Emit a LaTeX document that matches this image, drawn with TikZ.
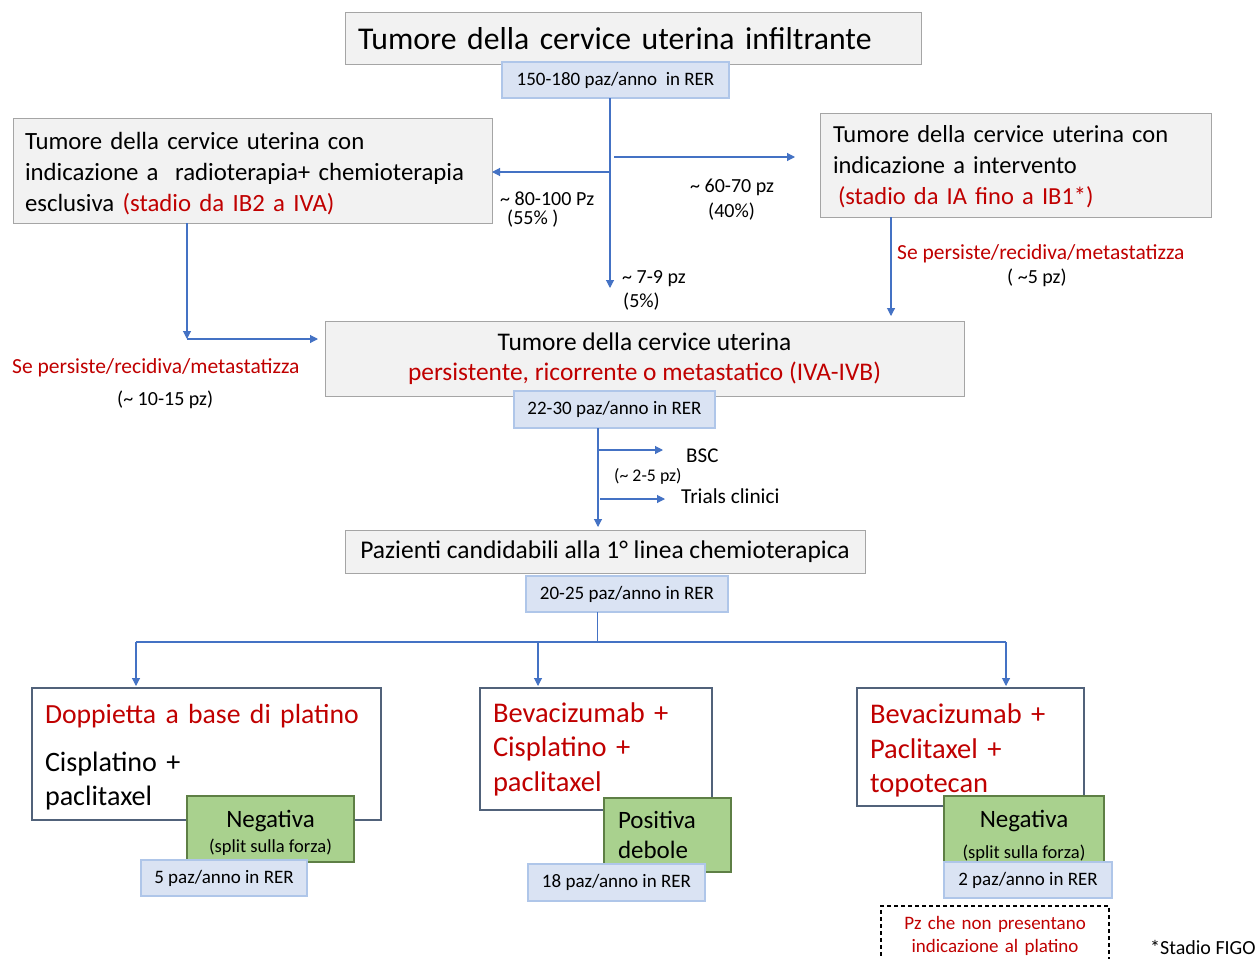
\documentclass[tikz,border=0pt]{standalone}
\usepackage{fontspec}
\setmainfont{Carlito}
\usetikzlibrary{arrows.meta}
\definecolor{gfill}{HTML}{F2F2F2}
\definecolor{gborder}{HTML}{A5A5A5}
\definecolor{bfill}{HTML}{DAE3F3}
\definecolor{bborder}{HTML}{AFC6E9}
\definecolor{ablue}{HTML}{4472C4}
\definecolor{rtext}{HTML}{C00000}
\definecolor{grfill}{HTML}{A9D18E}
\definecolor{grborder}{HTML}{5E7F45}
\definecolor{slate}{HTML}{51627A}
\newcommand\fsz[2]{\fontsize{#1}{#2}\selectfont}
\newcommand\lift[1]{\rule{0pt}{#1}}
\tikzset{
  basebox/.style={anchor=north west, inner ysep=0pt, outer sep=0pt, line width=1pt},
  graybox/.style={basebox, draw=gborder, fill=gfill},
  bluebox/.style={basebox, draw=bborder, fill=bfill, line width=1.2pt, align=center, font=\fsz{19}{23}},
  whitebox/.style={basebox, draw=slate, fill=white, line width=1.1pt},
  greenbox/.style={basebox, draw=grborder, fill=grfill, line width=1.1pt},
  arr/.style={draw=ablue, line width=1.1pt, -{Triangle[length=8pt,width=8pt]}},
  lbl/.style={anchor=base west, inner sep=0pt, font=\fsz{20}{24}},
  redlbl/.style={lbl, text=rtext, font=\fsz{21.5}{25}},
}
\begin{document}
\begin{tikzpicture}[x=1pt,y=-1pt]
\clip (0,0) rectangle (1255,958);
\fill[white] (0,0) rectangle (1255,958);

% --- main boxes
\node[graybox, inner xsep=13pt, text width=550pt, minimum height=52pt, align=left, font=\fsz{31.7}{38}] (title) at (345,13) {Tumore della cervice uterina infiltrante};
\node[bluebox, minimum width=227pt, minimum height=36pt] (b150) at (502,62) {150-180 paz/anno\ \ in RER};

\node[graybox, inner xsep=12pt, text width=455pt, minimum height=105pt, align=left, font=\fsz{24.8}{31}] (lbox) at (13,118)
  {\lift{23pt}Tumore della cervice uterina con\\ \mbox{indicazione a\ \ radioterapia+ chemioterapia}\\ esclusiva {\color{rtext}(stadio da IB2 a IVA)}};
\node[graybox, inner xsep=13pt, text width=365pt, minimum height=104pt, align=left, font=\fsz{24.5}{31}] (rbox) at (820,113)
  {\lift{20pt}Tumore della cervice uterina con\\ indicazione a intervento\\ \hspace*{5pt}{\color{rtext}(stadio da IA fino a IB1*)}};

\node[graybox, minimum width=639pt, minimum height=75pt, align=center, font=\fsz{25.4}{30}] (pbox) at (325,321)
  {Tumore della cervice uterina\\ {\color{rtext}persistente, ricorrente o metastatico (IVA-IVB)}};
\node[bluebox, minimum width=201pt, minimum height=37pt] (b22) at (514,391) {22-30 paz/anno in RER};

\node[graybox, minimum width=520pt, minimum height=43pt, align=center, font=\fsz{25.5}{30}] (paz) at (345,530) {Pazienti candidabili alla 1° linea chemioterapica};
\node[bluebox, minimum width=202pt, minimum height=36pt] (b20) at (526,576) {20-25 paz/anno in RER};

% --- therapy boxes
\node[whitebox, inner xsep=13pt, text width=323pt, minimum height=132pt, align=left, font=\fsz{28.1}{34.5}] (boxA) at (32,688)
  {\lift{26pt}{\fsz{27.7}{34.5}\color{rtext}Doppietta a base di platino}\\[13.5pt] Cisplatino +\\ paclitaxel};
\node[whitebox, inner xsep=13pt, text width=206pt, minimum height=122pt, align=left, text=rtext, font=\fsz{28.5}{34.5}] (boxB) at (480,688)
  {Bevacizumab +\\ Cisplatino +\\ paclitaxel};
\node[whitebox, inner xsep=13pt, text width=201pt, minimum height=118pt, align=left, text=rtext, font=\fsz{28.5}{34.5}] (boxC) at (857,688)
  {\lift{27pt}Bevacizumab +\\ Paclitaxel +\\ topotecan};

\node[greenbox, minimum width=167pt, minimum height=66pt, align=center, font=\fsz{25}{25}] (gA) at (187,796)
  {\lift{24pt}Negativa\\ {\fsz{18.5}{25}(split sulla forza)}};
\node[greenbox, inner xsep=14pt, text width=99pt, minimum height=74pt, align=left, font=\fsz{25}{30}] (gB) at (604,798)
  {Positiva\\ debole};
\node[greenbox, minimum width=160pt, minimum height=66pt, align=center, font=\fsz{25}{31}] (gC) at (944,796)
  {\lift{30pt}Negativa\\ {\fsz{18.5}{31}(split sulla forza)}};

\node[bluebox, minimum width=166pt, minimum height=36pt] (bA) at (141,860) {5 paz/anno in RER};
\node[bluebox, minimum width=177pt, minimum height=37pt] (bB) at (528,864) {18 paz/anno in RER};
\node[bluebox, minimum width=168pt, minimum height=36pt] (bC) at (944,862) {2 paz/anno in RER};

\node[basebox, draw=black, line width=1.2pt, dash pattern=on 4pt off 3pt, inner xsep=8pt, inner ysep=10pt, text width=212pt, text depth=60pt, align=center, text=rtext, font=\fsz{19}{23}] (dash) at (881,906)
  {Pz che non presentano\\ indicazione al platino};

% --- labels
\node[lbl] (l80) at (500,205) {\textasciitilde\ 80-100 Pz};
\node[lbl] (l55) at (507,224) {(55\% )};
\node[lbl] (l60) at (690,192) {\textasciitilde\ 60-70 pz};
\node[lbl] (l40) at (708,217) {(40\%)};
\node[lbl] (l7) at (622,283) {\textasciitilde\ 7-9 pz};
\node[lbl] (l5) at (623,307) {(5\%)};
\node[redlbl] (sr) at (897,259) {Se persiste/recidiva/metastatizza};
\node[lbl] (s5) at (1007,283) {(\ \textasciitilde5 pz)};
\node[redlbl] (sl) at (12,373) {Se persiste/recidiva/metastatizza};
\node[lbl] (s10) at (117,405) {(\textasciitilde\ 10-15 pz)};
\node[lbl, font=\fsz{21}{25}] (bsc) at (686,462) {BSC};
\node[lbl, font=\fsz{17.8}{20}] (s25) at (614,481) {(\textasciitilde\ 2-5 pz)};
\node[lbl, font=\fsz{21.3}{25}] (trials) at (681,503) {Trials clinici};
\node[lbl] (figo) at (1150,954) {*Stadio FIGO};

% --- connectors
\coordinate (v1) at (610,288);
\draw[arr] (b150.south -| v1) -- (v1);
\coordinate (jl) at (610,172);
\draw[arr] (jl) -- (jl -| lbox.east);
\coordinate (jr) at (614,157);
\coordinate (er) at (795,157);
\draw[arr] (jr) -- (er);

\coordinate (cl) at (187,339);
\draw[arr] (lbox.south -| cl) -- (cl);
\draw[arr, shorten >=7pt] (cl) -- (cl -| pbox.west);
\coordinate (cr) at (891,217);
\draw[arr, shorten >=5pt] (rbox.south -| cr) -- (pbox.north -| cr);

\coordinate (c2) at (598,428);
\draw[arr, shorten >=3pt] (b22.south -| c2) -- (paz.north -| c2);
\coordinate (cb) at (598,450);
\draw[arr, shorten >=23pt] (cb) -- (cb -| bsc.west);
\coordinate (ct) at (600,499);
\draw[arr, shorten >=16pt] (ct) -- (ct -| trials.west);

\coordinate (h0) at (597,642);
\coordinate (hL) at (136,642);
\coordinate (hB) at (538,642);
\coordinate (hR) at (1006,642);
\draw[ablue, line width=0.8pt] (b20.south -| h0) -- (h0);
\draw[ablue, line width=1.3pt] (hL) -- (hR);
\draw[arr, shorten >=2pt] (hL) -- (boxA.north -| hL);
\draw[arr, shorten >=2pt] (hB) -- (boxB.north -| hB);
\draw[arr, shorten >=2pt] (hR) -- (boxC.north -| hR);
\end{tikzpicture}
\end{document}
